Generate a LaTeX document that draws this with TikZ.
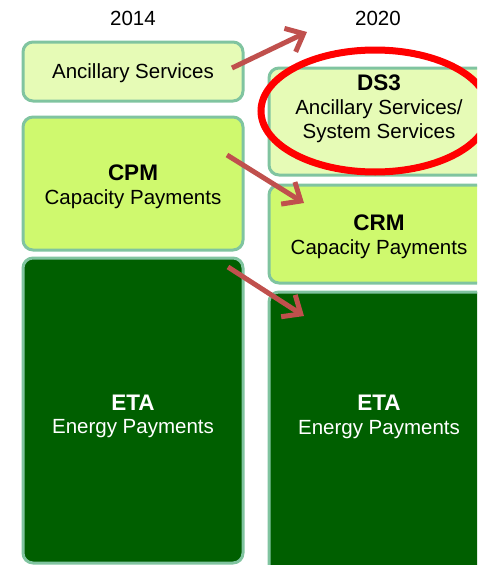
\documentclass[tikz,border=0pt]{standalone}
\usepackage{fontspec}
\setmainfont{Liberation Sans}
\usetikzlibrary{arrows.meta}
\definecolor{boxline}{HTML}{80C4A0}
\definecolor{lightfill}{HTML}{E6FBB6}
\definecolor{midfill}{HTML}{CFF96E}
\definecolor{darkfill}{HTML}{005F00}
\definecolor{arrowred}{HTML}{C0504D}
\definecolor{ringred}{HTML}{FF0000}
\tikzset{
  box/.style={draw=boxline, line width=3pt, rounded corners=10pt},
  lightbox/.style={box, fill=lightfill},
  midbox/.style={box, fill=midfill},
  darkbox/.style={box, fill=darkfill},
  reg/.style={font=\fontsize{20.5}{25}\selectfont, inner sep=0pt, text height=14.7pt, text depth=0pt},
  bld/.style={font=\fontsize{22.5}{25}\selectfont\bfseries, inner sep=0pt, text height=16.2pt, text depth=0pt},
  movearrow/.style={draw=arrowred, line width=5pt, -{Straight Barb[length=15pt,width=26pt]}},
  ring/.style={draw=ringred, line width=7pt}
}
\begin{document}
\begin{tikzpicture}[x=1pt,y=-1pt]
\useasboundingbox (0,0) rectangle (477,565);
\clip (0,0) rectangle (477,565);
% headers
\node[reg] (y2014) at (133,18) {2014};
\node[reg] (y2020) at (378,18) {2020};
% left column
\draw[lightbox] (23,42) rectangle (243,101);
\node[reg] (anc) at (133,71) {Ancillary Services};
\draw[midbox] (23,117) rectangle (243,250);
\node[bld] (cpm) at (133,172) {CPM};
\node[reg] (cpmt) at (133,197) {Capacity Payments};
\draw[darkbox] (23,258) rectangle (243,563);
\node[bld, text=white] (etal) at (133,402) {ETA};
\node[reg, text=white] (etalt) at (133,426) {Energy Payments};
% right column
\draw[lightbox] (269,68) rectangle (489,175);
\node[bld] (ds3) at (379,82) {DS3};
\node[reg] (ds3a) at (379,107) {Ancillary Services/};
\node[reg] (ds3b) at (379,131) {System Services};
\draw[midbox] (269,185) rectangle (489,283);
\node[bld] (crm) at (379,222) {CRM};
\node[reg] (crmt) at (379,247) {Capacity Payments};
\draw[darkbox] (269,292) rectangle (489,580);
\node[bld, text=white] (etar) at (379,402) {ETA};
\node[reg, text=white] (etart) at (379,427) {Energy Payments};
% ring
\draw[ring] (375,111) ellipse [x radius=114, y radius=61];
% arrows
\coordinate (a1s) at (232,68);
\coordinate (a1e) at (307,32);
\coordinate (a2s) at (227,155);
\coordinate (a2e) at (304,203);
\coordinate (a3s) at (228,267);
\coordinate (a3e) at (304,316);
\draw[movearrow] (a1s) -- (a1e);
\draw[movearrow] (a2s) -- (a2e);
\draw[movearrow] (a3s) -- (a3e);
\end{tikzpicture}
\end{document}
